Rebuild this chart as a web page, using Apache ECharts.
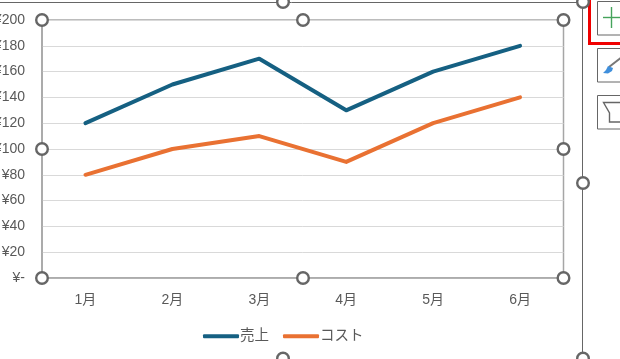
<!DOCTYPE html>
<html><head><meta charset="utf-8">
<style>html,body{margin:0;padding:0;background:#fff;overflow:hidden}#c{width:620px;height:359px}</style>
<script src="https://cdn.jsdelivr.net/npm/echarts@6/dist/echarts.min.js"></script>
</head><body><div id="c"></div>
<script>
const categories = ['1月','2月','3月','4月','5月','6月'];
const seriesNames = ['売上','コスト'];
const sales = [120,150,170,130,160,180];
const cost = [80,100,110,90,120,140];
const seriesColors = ['#156082','#E97132'];
const FONT = '"Liberation Sans","Noto Sans CJK JP",sans-serif';
const HANDLE = '#666666';
const handles = [[42,20],[303,20],[563.5,20],[42,149],[563.5,149],[42,278],[303,278],[563.5,278],[283,2],[583,2],[583,183],[583,358.5],[283,358.5]];
const chart = echarts.init(document.getElementById('c'), null, {renderer:'canvas'});
const lineSeries = [sales,cost].map((d,i)=>({
  name:seriesNames[i], type:'line', data:d, symbol:'none', smooth:false,
  lineStyle:{color:seriesColors[i],width:4,cap:'round',join:'round'},
  itemStyle:{color:seriesColors[i]}, z:3
}));
const graphics = [
  {type:'line',shape:{x1:0,y1:2.5,x2:583,y2:2.5},style:{stroke:HANDLE,lineWidth:1},z:1},
  {type:'line',shape:{x1:582.5,y1:2,x2:582.5,y2:359},style:{stroke:HANDLE,lineWidth:1},z:1},
  {type:'rect',shape:{x:597.5,y:1.5,width:30,height:33.5},style:{fill:'#fff',stroke:'#666',lineWidth:1},z:1},
  {type:'polyline',shape:{points:[[589.5,0],[589.5,43.5],[625,43.5]]},style:{fill:null,stroke:'#f00000',lineWidth:3},z:2},
  {type:'line',shape:{x1:603,y1:17.5,x2:620,y2:17.5},style:{stroke:'#45a35c',lineWidth:1.4},z:2},
  {type:'line',shape:{x1:611.5,y1:7,x2:611.5,y2:28},style:{stroke:'#45a35c',lineWidth:1.4},z:2},
  {type:'rect',shape:{x:597.5,y:48.5,width:30,height:33.5},style:{fill:'#fff',stroke:'#666',lineWidth:1},z:1},
  {type:'line',shape:{x1:609,y1:67,x2:622,y2:57},style:{stroke:'#777',lineWidth:2},z:2},
  {type:'polygon',shape:{points:[[603,73],[606,70],[608,66],[613,68],[612,71],[608,73.5]]},style:{fill:'#3f8fdc'},z:2},
  {type:'rect',shape:{x:597.5,y:95.5,width:30,height:33.5},style:{fill:'#fff',stroke:'#666',lineWidth:1},z:1},
  {type:'polyline',shape:{points:[[620,102.5],[603.5,102.5],[609.5,113],[609.5,122],[620,122]]},style:{fill:null,stroke:'#666',lineWidth:1.4},z:2},
  ...handles.map(p=>({type:'circle',shape:{cx:p[0],cy:p[1],r:5.8},style:{fill:'#fff',stroke:HANDLE,lineWidth:2.4},z:10}))
];
chart.setOption({
  animation:false,
  backgroundColor:'#fff',
  grid:{left:42,right:56.5,top:20,bottom:81,outerBoundsMode:'none',show:true,borderColor:'#a6a6a6',borderWidth:1.5,backgroundColor:'transparent'},
  legend:{show:true,data:seriesNames,top:324,left:198,itemWidth:36,itemHeight:4,itemGap:14,
    icon:'roundRect',
    textStyle:{fontFamily:FONT,fontSize:14.5,color:'#595959',padding:[0,0,0,-4]}},
  xAxis:{type:'category',data:categories,boundaryGap:true,
    axisLine:{show:true,lineStyle:{color:'#a6a6a6',width:1.5}},axisTick:{show:false},
    axisLabel:{fontFamily:FONT,fontSize:14,color:'#595959',margin:15},splitLine:{show:false}},
  yAxis:{type:'value',min:0,max:200,interval:20,
    axisLine:{show:true,lineStyle:{color:'#a6a6a6',width:1.5}},axisTick:{show:false},
    axisLabel:{fontFamily:FONT,fontSize:14,color:'#595959',margin:17,
      formatter:v=>v===0?'¥-':'¥'+v},
    splitLine:{show:true,lineStyle:{color:'#d9d9d9',width:1}}},
  series:lineSeries,
  graphic:{elements:graphics}
});
</script></body></html>
